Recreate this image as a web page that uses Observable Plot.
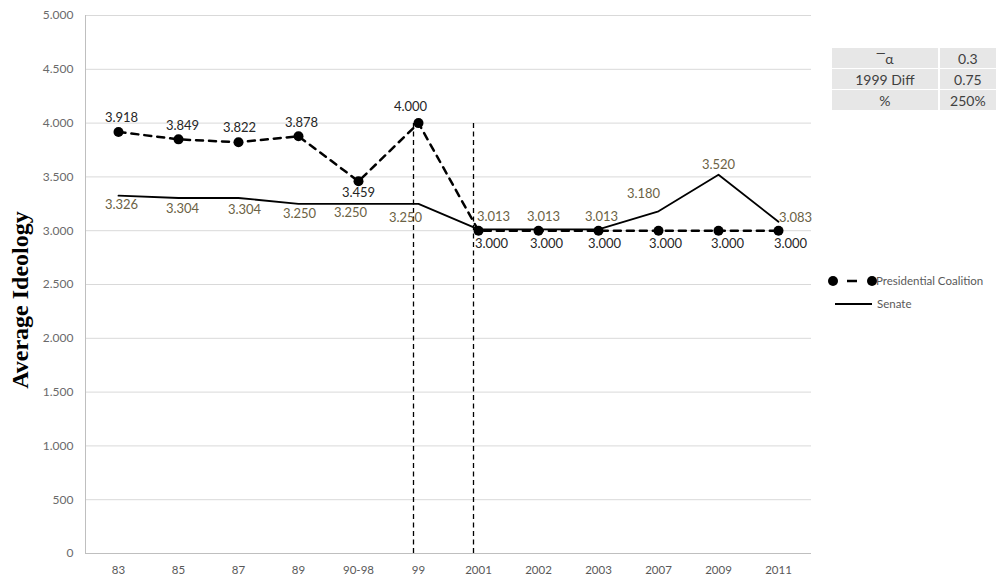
<!DOCTYPE html>
<html>
<head>
<meta charset="utf-8">
<script src="https://cdn.jsdelivr.net/npm/d3@7"></script>
<script src="https://cdn.jsdelivr.net/npm/@observablehq/plot@0.6"></script>
<style>
  html, body { margin: 0; padding: 0; background: #fff; overflow: hidden; }
  #wrap { position: relative; width: 998px; height: 579px; }
  #stats { position: absolute; left: 830px; top: 47px; border-collapse: collapse;
           font-family: Lato, "Open Sans", sans-serif; font-size: 14px; color: #404040; }
  #stats td { background: #e7e7e7; height: 20px; padding: 0; text-align: center;
              border: 2px solid #fff; border-top-width: 1px; border-bottom-width: 1px; }
  #stats td.k { width: 112px; }
  #stats td.v { width: 58px; }
  #legend { position: absolute; left: 820px; top: 266px; }
</style>
</head>
<body>
<div id="wrap"></div>
<script>
// Ideology scores are stored in thousandths and printed with "." as thousands separator.
const categories = ["83", "85", "87", "89", "90-98", "99", "2001", "2002", "2003", "2007", "2009", "2011"];
const presidential = [3918, 3849, 3822, 3878, 3459, 4000, 3000, 3000, 3000, 3000, 3000, 3000];
const senate = [3326, 3304, 3304, 3250, 3250, 3250, 3013, 3013, 3013, 3180, 3520, 3083];
const yTicks = [0, 500, 1000, 1500, 2000, 2500, 3000, 3500, 4000, 4500, 5000];
const breakPeriods = ["99", "2001"];
const statNames = ["\u203E\u03B1", "1999 Diff", "%"];
const statValues = ["0.3", "0.75", "250%"];
const seriesNames = ["Presidential Coalition", "Senate"];

const fmt = d3.formatLocale({decimal: ",", thousands: ".", grouping: [3], currency: ["", ""]}).format(",d");

const presRows = categories.map((c, i) => ({period: c, value: presidential[i]}));
const senRows = categories.map((c, i) => ({period: c, value: senate[i]}));

// label offsets (px) around each point
const presOffset = {
  "83": [3, -14], "85": [4, -14], "87": [1, -14], "89": [3, -13], "90-98": [0, 12], "99": [-8, -16],
  "2001": [13, 13], "2002": [8, 13], "2003": [6, 13], "2007": [7, 13], "2009": [9, 13], "2011": [12, 13]
};
const senOffset = {
  "83": [3, 9], "85": [4, 11], "87": [6, 12], "89": [1, 10], "90-98": [-8, 9], "99": [-13, 14],
  "2001": [15, -12], "2002": [5, -12], "2003": [3, -12], "2007": [-15, -18], "2009": [0, -10], "2011": [17, -4]
};

const sans = "Lato, 'Open Sans', sans-serif";

const presLabels = presRows.map(r => Plot.text([r], {
  x: "period", y: "value", text: d => fmt(d.value),
  dx: presOffset[r.period][0], dy: presOffset[r.period][1],
  fill: "#262626", fontSize: 13, fontFamily: sans
}));
const senLabels = senRows.map(r => Plot.text([r], {
  x: "period", y: "value", text: d => fmt(d.value),
  dx: senOffset[r.period][0], dy: senOffset[r.period][1],
  fill: "#6b6245", fontSize: 13, fontFamily: sans
}));

const chart = Plot.plot({
  width: 998,
  height: 579,
  marginLeft: 85,
  marginRight: 187,
  marginTop: 15,
  marginBottom: 26,
  style: {fontFamily: sans, background: "#fff"},
  x: {type: "point", domain: categories, padding: 0.5, label: null},
  y: {domain: [0, 5000], label: null},
  marks: [
    Plot.gridY(yTicks, {stroke: "#d9d9d9", strokeOpacity: 1, strokeWidth: 1}),
    Plot.frame({anchor: "left", stroke: "#bfbfbf"}),
    Plot.ruleY([0], {stroke: "#bfbfbf"}),
    Plot.axisY(yTicks, {tickSize: 0, tickPadding: 12, tickFormat: fmt, fontSize: 12, fill: "#6a6a6a", label: null}),
    Plot.axisX({tickSize: 0, tickPadding: 12, fontSize: 11.5, fill: "#595959", label: null}),
    Plot.ruleX(breakPeriods, {y1: 0, y2: 4000, dx: -5, stroke: "#000", strokeWidth: 1.3, strokeDasharray: "5,3.5"}),
    Plot.line(senRows, {x: "period", y: "value", stroke: "#000", strokeWidth: 1.8}),
    Plot.line(presRows, {x: "period", y: "value", stroke: "#000", strokeWidth: 2.5, strokeDasharray: "7,6"}),
    Plot.dot(presRows, {x: "period", y: "value", r: 5, fill: "#000"}),
    ...presLabels,
    ...senLabels
  ]
});

const wrap = document.getElementById("wrap");
wrap.appendChild(chart);

// rotated axis title
const svg = d3.select(chart);
svg.append("text")
  .attr("transform", "translate(28,300) rotate(-90)")
  .attr("text-anchor", "middle")
  .attr("font-family", "'Liberation Serif', 'DejaVu Serif', serif")
  .attr("font-weight", "bold")
  .attr("font-size", 24)
  .attr("fill", "#000")
  .text("Average Ideology");

// summary table
const table = document.createElement("table");
table.id = "stats";
statNames.forEach((n, i) => {
  const tr = table.insertRow();
  const a = tr.insertCell(); a.className = "k"; a.textContent = n;
  const b = tr.insertCell(); b.className = "v"; b.textContent = statValues[i];
});
wrap.appendChild(table);

// legend
const leg = d3.select(wrap).append("svg").attr("id", "legend").attr("width", 178).attr("height", 50);
const g1 = leg.append("g").attr("transform", "translate(0,15)");
g1.append("line").attr("x1", 13).attr("x2", 52).attr("y1", 0).attr("y2", 0)
  .attr("stroke", "#000").attr("stroke-width", 2.5).attr("stroke-dasharray", "0,14,10,20");
g1.append("circle").attr("cx", 13).attr("cy", 0).attr("r", 5);
g1.append("circle").attr("cx", 52).attr("cy", 0).attr("r", 5);
g1.append("text").attr("x", 56).attr("y", 0).attr("dy", "0.35em")
  .attr("font-family", sans).attr("font-size", 11.5).attr("fill", "#595959").text(seriesNames[0]);
const g2 = leg.append("g").attr("transform", "translate(0,38)");
g2.append("line").attr("x1", 15).attr("x2", 52).attr("y1", 0).attr("y2", 0)
  .attr("stroke", "#000").attr("stroke-width", 1.8);
g2.append("text").attr("x", 57).attr("y", 0).attr("dy", "0.35em")
  .attr("font-family", sans).attr("font-size", 11.5).attr("fill", "#595959").text(seriesNames[1]);
</script>
</body>
</html>
